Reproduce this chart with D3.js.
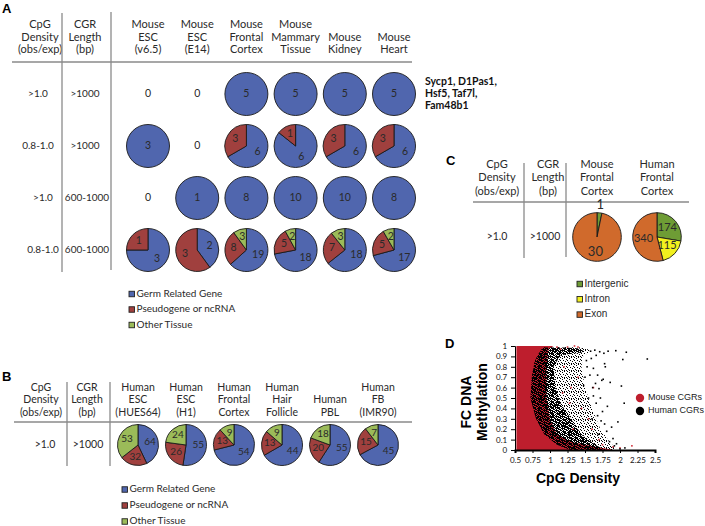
<!DOCTYPE html>
<html><head><meta charset="utf-8">
<script src="https://cdn.jsdelivr.net/npm/d3@7/dist/d3.min.js"></script>
<style>body{margin:0;background:#fff}svg{display:block}</style>
</head><body>
<svg id="c" width="705" height="526"></svg>
<script>
// ---------------- DATA ----------------
// Panel A (mouse)
const mouseTissues = [["Mouse","ESC","(v6.5)"],["Mouse","ESC","(E14)"],["Mouse","Frontal","Cortex"],["Mouse","Mammary","Tissue"],["Mouse","Kidney"],["Mouse","Heart"]];
const mouseRowDensity = [">1.0","0.8-1.0",">1.0","0.8-1.0"];
const mouseRowLength = [">1000",">1000","600-1000","600-1000"];
const mouseGerm   = [[0,0,5,5,5,5],[3,0,6,6,6,6],[0,1,8,10,10,8],[3,2,19,18,18,17]];
const mousePseudo = [[0,0,0,0,0,0],[0,0,3,1,3,3],[0,0,0,0,0,0],[1,3,8,5,7,5]];
const mouseOther  = [[0,0,0,0,0,0],[0,0,0,0,0,0],[0,0,0,0,0,0],[0,0,3,2,3,2]];
const categoryLabels = ["Germ Related Gene","Pseudogene or ncRNA","Other Tissue"];
const geneNames = ["Sycp1, D1Pas1,","Hsf5, Taf7l,","Fam48b1"];
const densityHeader = ["CpG","Density","(obs/exp)"];
const lengthHeader = ["CGR","Length","(bp)"];

// Panel B (human)
const humanTissues = [["Human","ESC","(HUES64)"],["Human","ESC","(H1)"],["Human","Frontal","Cortex"],["Human","Hair","Follicle"],["Human","PBL"],["Human","FB","(IMR90)"]];
const humanRowDensity = [">1.0"];
const humanRowLength = [">1000"];
const humanGerm   = [64,55,54,44,55,45];
const humanPseudo = [32,26,13,13,20,15];
const humanOther  = [53,24,9,9,18,7];

// Panel C
const cTissues = [["Mouse","Frontal","Cortex"],["Human","Frontal","Cortex"]];
const cIntergenic = [1,174];
const cIntron = [0,115];
const cExon = [30,340];
const cLabels = ["Intergenic","Intron","Exon"];

// Panel D
const dXTicks = [0.5,0.75,1,1.25,1.5,1.75,2,2.25,2.5];
const dYTicks = [0,0.1,0.2,0.3,0.4,0.5,0.6,0.7,0.8,0.9,1];
const dLegend = ["Mouse CGRs","Human CGRs"];
// outline of the dense mouse CGR cloud [CpG density, methylation]
const mouseCloud = [[0.52,0],[0.52,1.0],[1.05,1.0],[0.98,0.97],[0.95,0.8],[0.95,0.5],[1.0,0.3],[1.1,0.15],[1.3,0.08],[1.67,0.03],[1.88,0.006],[1.9,0]];
// outline of the human CGR cloud (sparser outer region)
const humanCloud = [[1.3,0],[1.1,0.05],[0.92,0.15],[0.8,0.3],[0.72,0.5],[0.74,0.7],[0.78,0.85],[0.84,0.93],[0.9,0.985],[1.2,0.99],[1.5,0.985],[1.58,0.95],[1.47,0.9],[1.45,0.8],[1.5,0.6],[1.6,0.4],[1.72,0.2],[1.85,0.08],[1.96,0]];
// dense core of the human CGR cloud
const humanCore = [[1.3,0],[1.1,0.05],[0.92,0.15],[0.8,0.3],[0.72,0.5],[0.74,0.7],[0.78,0.85],[0.84,0.93],[0.9,0.985],[1.2,0.985],[1.45,0.975],[1.48,0.94],[1.15,0.91],[1.05,0.8],[1.08,0.6],[1.15,0.45],[1.3,0.3],[1.45,0.15],[1.65,0.05],[1.78,0]];
const humanOutliers = [[1.94,0.955],[2.09,0.94],[2.39,0.875],[2.04,0.87],[2.02,0.615],[2.06,0.45],[1.97,0.27],[1.74,0.67],[1.86,0.65],[1.61,0.60],[1.78,0.83],[1.71,0.945],[1.83,0.95],[1.66,0.91],[2.07,0.02],[1.70,0.59],[1.76,0.68],[1.79,0.80],[1.62,0.785],[1.82,0.42],[1.75,0.37],[1.73,0.28],[1.81,0.18],[1.85,0.08],[1.58,0.95],[1.64,0.96],[1.77,0.93],[1.52,0.86],[1.57,0.72],[1.55,0.50],[1.66,0.45],[1.68,0.33],[1.62,0.52],[1.90,0.11],[1.92,0.04],[1.69,0.15],[1.88,0.22],[1.60,0.30],[1.50,0.70],[1.48,0.62],[1.53,0.80],[1.59,0.88],[1.68,0.72],[1.72,0.50],[1.65,0.64],[2.0,0.01],[1.95,0.06],[1.78,0.25]];
const mouseOutliers = [[2.17,0.04],[1.9,0.03],[2.0,0.02],[1.2,0.80],[1.3,0.60],[1.45,0.40],[1.6,0.20],[1.7,0.10],[1.15,0.97],[1.25,0.99],[1.35,1.0],[1.1,0.99],[1.55,0.30],[1.40,0.70],[1.28,0.45],[1.75,0.05],[1.62,0.60],[1.4,0.99],[1.18,0.55],[1.33,0.2]];

// ---------------- DRAW ----------------
const svg = d3.select("#c");
const FONT = "Lato, 'Open Sans', sans-serif";
const ARIAL = "'Liberation Sans', Arial, sans-serif";
const colA = ["#5066AE","#A0403E","#9BBB59"];
const colC = ["#6E9C35","#F2F01E","#D06A2C"];
const INK = "#2a2a2a";
const GRID = "#8a8a8a";

function panelLetter(t,x,y){ svg.append("text").attr("x",x).attr("y",y).attr("font-family",ARIAL).attr("font-weight","bold").attr("font-size",13).attr("fill","#000").text(t); }
function multiLine(lines, x, yBottom, step, size){
  const n = lines.length;
  lines.forEach((s,i)=>{
    svg.append("text").attr("x",x).attr("y",yBottom-(n-1-i)*step).attr("text-anchor","middle")
      .attr("dominant-baseline","middle").attr("font-family",FONT).attr("font-size",size).attr("fill",INK).text(s);
  });
}
function line(x1,y1,x2,y2){ svg.append("line").attr("x1",x1).attr("y1",y1).attr("x2",x2).attr("y2",y2).attr("stroke",GRID).attr("stroke-width",1.3); }
function txt(s,x,y,size,anchor){ return svg.append("text").attr("x",x).attr("y",y).attr("text-anchor",anchor||"middle").attr("dominant-baseline","middle").attr("font-family",FONT).attr("font-size",size).attr("fill",INK).text(s); }

function drawPie(cx, cy, r, values, colors, fsize, labK, outsideSmall){
  const total = d3.sum(values);
  if(total===0){ txt("0",cx,cy,fsize); return; }
  const arcs = d3.pie().sort(null).value(d=>d)(values).filter(a=>a.value>0);
  const g = svg.append("g").attr("transform",`translate(${cx},${cy})`);
  const arc = d3.arc().innerRadius(0).outerRadius(r);
  g.selectAll("path").data(arcs).join("path").attr("d",arc)
    .attr("fill",d=>colors[d.index]).attr("stroke","#1a1a1a").attr("stroke-width",0.9);
  const lab = d3.arc().innerRadius(r*labK).outerRadius(r*labK);
  const labOut = d3.arc().innerRadius(r*1.28).outerRadius(r*1.28);
  arcs.forEach(a=>{
    let p;
    if(arcs.length===1) p=[0,0];
    else if(outsideSmall && (a.endAngle-a.startAngle)<0.35) p=labOut.centroid(a);
    else p=lab.centroid(a);
    g.append("text").attr("x",p[0]).attr("y",p[1]).attr("text-anchor","middle").attr("dominant-baseline","middle")
      .attr("font-family",FONT).attr("font-size",fsize).attr("fill",INK).text(a.value);
  });
}
function legendSquares(items, colors, x, y0, step, size, font, fsize){
  items.forEach((s,i)=>{
    const y = y0+i*step;
    svg.append("rect").attr("x",x).attr("y",y-size/2).attr("width",size).attr("height",size)
      .attr("fill",colors[i]).attr("stroke","#222").attr("stroke-width",0.9);
    svg.append("text").attr("x",x+size+2).attr("y",y).attr("dominant-baseline","middle")
      .attr("font-family",font).attr("font-size",fsize).attr("fill",INK).text(s);
  });
}

// ===== Panel A =====
panelLetter("A",2,13);
const xA = d3.scalePoint().domain(d3.range(mouseTissues.length)).range([148,394]);
const yA = d3.scalePoint().domain(d3.range(mouseRowDensity.length)).range([94,250]);
multiLine(densityHeader,40,50.5,12.5,11);
multiLine(lengthHeader,85,50.5,12.5,11);
mouseTissues.forEach((t,i)=>multiLine(t,xA(i),50.5,12.5,11));
line(12,62,412,62);
line(62,13,62,272);
line(111,12,111,270);
mouseRowDensity.forEach((s,i)=>{ txt(s,i<2?38:43,yA(i),10); txt(mouseRowLength[i],i<2?85:87,yA(i),10); });
mouseGerm.forEach((row,ri)=>row.forEach((g,ci)=>{
  drawPie(xA(ci),yA(ri),21.5,[g,mousePseudo[ri][ci],mouseOther[ri][ci]],colA,10.5,0.6,false);
}));
geneNames.forEach((s,i)=>svg.append("text").attr("x",425).attr("y",82+i*12).attr("dominant-baseline","middle")
  .attr("font-family",FONT).attr("font-weight","bold").attr("font-size",10.5).attr("fill","#111").text(s));
legendSquares(categoryLabels,colA,129,294,15.5,5.5,FONT,10);

// ===== Panel B =====
panelLetter("B",2,381);
const xB = d3.scalePoint().domain(d3.range(humanTissues.length)).range([138,378]);
multiLine(densityHeader,41,413,12.5,10.5);
multiLine(lengthHeader,87,413,12.5,10.5);
humanTissues.forEach((t,i)=>multiLine(t,xB(i),413,12.5,10.5));
line(14,422,412,422);
line(67,382,67,466);
line(110,382,110,466);
txt(humanRowDensity[0],45,445,10.5); txt(humanRowLength[0],88,445,10.5);
humanGerm.forEach((g,i)=>drawPie(xB(i),445,20.5,[g,humanPseudo[i],humanOther[i]],colA,10,0.6,false));
legendSquares(categoryLabels,colA,122,489.5,16,5.5,FONT,10);

// ===== Panel C =====
panelLetter("C",446,165);
const xC = d3.scalePoint().domain(d3.range(cTissues.length)).range([597,657]);
multiLine(densityHeader,497,192,13.5,11);
multiLine(lengthHeader,548,192,13.5,11);
cTissues.forEach((t,i)=>multiLine(t,xC(i),192,13.5,11));
line(473,202,689,202);
line(524,163,524,258);
line(566,163,566,257);
txt(">1.0",497,237,10.5); txt(">1000",545,237,10.5);
cIntergenic.forEach((v,i)=>drawPie(xC(i),237,24.3,[v,cIntron[i],cExon[i]],colC,i===0?13:11,i===0?0.65:0.56,true));
legendSquares(cLabels,colC,577,284,15.3,5.5,ARIAL,10);

// ===== Panel D =====
panelLetter("D",445,348);
const xD = d3.scaleLinear().domain([0.5,2.5]).range([515,655]);
const yD = d3.scaleLinear().domain([0,1]).range([450,346]);
const defs = svg.append("defs");
function pattern(id,w,cells){
  const p = defs.append("pattern").attr("id",id).attr("patternUnits","userSpaceOnUse").attr("width",w).attr("height",w);
  cells.forEach(c=>p.append("rect").attr("x",c[0]).attr("y",c[1]).attr("width",1).attr("height",1).attr("fill","#000").attr("shape-rendering","crispEdges"));
}
// texture tiles (styling only)
pattern("hDense",6,[[0,0],[1,0],[3,0],[5,0],[1,1],[2,1],[4,1],[0,2],[3,2],[4,2],[5,2],[0,3],[1,3],[2,3],[4,3],[2,4],[3,4],[5,4],[0,5],[1,5],[4,5],[5,5]]);
pattern("hSparse",7,[[0,0],[4,0],[2,1],[6,2],[0,3],[3,3],[5,4],[1,5],[4,6],[6,6],[2,6]]);
defs.append("clipPath").attr("id","dclip").append("rect").attr("x",516).attr("y",344).attr("width",142).attr("height",106);
const area = d3.line().x(d=>xD(d[0])).y(d=>yD(d[1])).curve(d3.curveLinearClosed);
const gD = svg.append("g").attr("clip-path","url(#dclip)");
gD.append("path").attr("d",area(mouseCloud)).attr("fill","#BE1E2D");
gD.append("path").attr("d",area(humanCloud)).attr("fill","url(#hSparse)");
gD.append("path").attr("d",area(humanCore)).attr("fill","url(#hDense)");
gD.selectAll("rect.mo").data(mouseOutliers).join("rect").attr("class","mo")
  .attr("x",d=>xD(d[0])-0.8).attr("y",d=>yD(d[1])-0.8).attr("width",1.6).attr("height",1.6).attr("fill","#D0303A");
gD.selectAll("rect.ho").data(humanOutliers).join("rect").attr("class","ho")
  .attr("x",d=>xD(d[0])-0.8).attr("y",d=>yD(d[1])-0.8).attr("width",1.6).attr("height",1.6).attr("fill","#000");

const ax = svg.append("g").attr("transform","translate(0,450)")
  .call(d3.axisBottom(xD).tickValues(dXTicks).tickSize(3).tickFormat(String));
ax.select(".domain").attr("stroke","#000").attr("stroke-width",2);
const ay = svg.append("g").attr("transform","translate(515,0)")
  .call(d3.axisLeft(yD).tickValues(dYTicks).tickSize(4).tickFormat(String));
ay.select(".domain").attr("stroke","#000").attr("stroke-width",1);
[ax,ay].forEach(a=>{ a.selectAll("text").attr("font-family",FONT).attr("font-size",8).attr("fill","#111");
  a.selectAll(".tick line").attr("stroke","#000"); });
ax.selectAll("text").attr("dy","0.9em");
ay.selectAll("text").attr("dx","-0.1em");

svg.append("text").attr("x",578).attr("y",483).attr("text-anchor","middle").attr("font-family",ARIAL)
  .attr("font-weight","bold").attr("font-size",14).attr("fill","#000").text("CpG Density");
const yt = svg.append("text").attr("transform","translate(471,402) rotate(-90)").attr("text-anchor","middle")
  .attr("font-family",ARIAL).attr("font-weight","bold").attr("font-size",14).attr("fill","#000");
yt.append("tspan").attr("x",0).attr("dy",0).text("FC DNA");
yt.append("tspan").attr("x",0).attr("dy",16).text("Methylation");
const dCols = ["#BE1E2D","#000"];
dLegend.forEach((s,i)=>{
  svg.append("circle").attr("cx",640).attr("cy",398+i*13).attr("r",4.2).attr("fill",dCols[i]);
  svg.append("text").attr("x",648).attr("y",398+i*13).attr("dominant-baseline","middle").attr("font-family",ARIAL)
    .attr("font-size",9).attr("fill","#222").text(s);
});
</script>
</body></html>
